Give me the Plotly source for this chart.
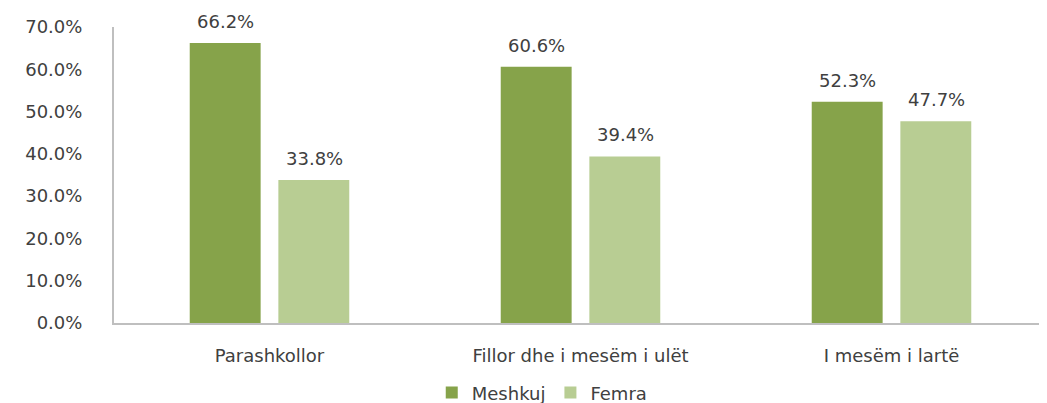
import plotly.graph_objects as go

categories = ["Parashkollor", "Fillor dhe i mesëm i ulët", "I mesëm i lartë"]
meshkuj = [0.662, 0.606, 0.523]
femra = [0.338, 0.394, 0.477]
y_ticks = [0.0, 0.1, 0.2, 0.3, 0.4, 0.5, 0.6, 0.7]

dark = "#86a34a"
light = "#b8cd93"
text_col = "#404040"
font_fam = "DejaVu Sans"
fs = 18

fig = go.Figure()
fig.add_trace(go.Bar(name="Meshkuj", x=categories, y=meshkuj, marker_color=dark,
                     marker_line_width=0))
fig.add_trace(go.Bar(name="Femra", x=categories, y=femra, marker_color=light,
                     marker_line_width=0))

annotations = []
for vals, shift in ((meshkuj, -44.5), (femra, 44.5)):
    for c, v in zip(categories, vals):
        annotations.append(dict(x=c, y=v, xref="x", yref="y", text=f"{v*100:.1f}%",
                                showarrow=False, xshift=shift, yshift=9,
                                yanchor="bottom",
                                font=dict(family=font_fam, size=fs, color=text_col)))

fig.update_layout(
    width=1039, height=395,
    margin=dict(l=106, r=0, t=19, b=80, autoexpand=False),
    paper_bgcolor="white", plot_bgcolor="white",
    barmode="group", bargap=0.43, bargroupgap=0.2,
    font=dict(family=font_fam, size=fs, color=text_col),
    showlegend=True,
    legend=dict(orientation="h", x=0.459, xanchor="center", y=-0.236, yanchor="middle",
                font=dict(family=font_fam, size=fs, color=text_col),
                itemwidth=30, tracegroupgap=0),
    annotations=annotations,
)
fig.update_xaxes(showline=True, linecolor="#bfbfbf", linewidth=2, showgrid=False,
                 ticks="", tickfont=dict(family=font_fam, size=fs, color=text_col),
                 ticklabelstandoff=15, range=[-0.5, 2.5], automargin=False)
fig.update_yaxes(showline=True, linecolor="#bfbfbf", linewidth=2, showgrid=False,
                 zeroline=False, range=[0, 0.7], tickvals=y_ticks, tickformat=".1%",
                 ticks="", ticklabelstandoff=26, automargin=False,
                 tickfont=dict(family=font_fam, size=fs, color=text_col))

fig.write_html("out.html")
